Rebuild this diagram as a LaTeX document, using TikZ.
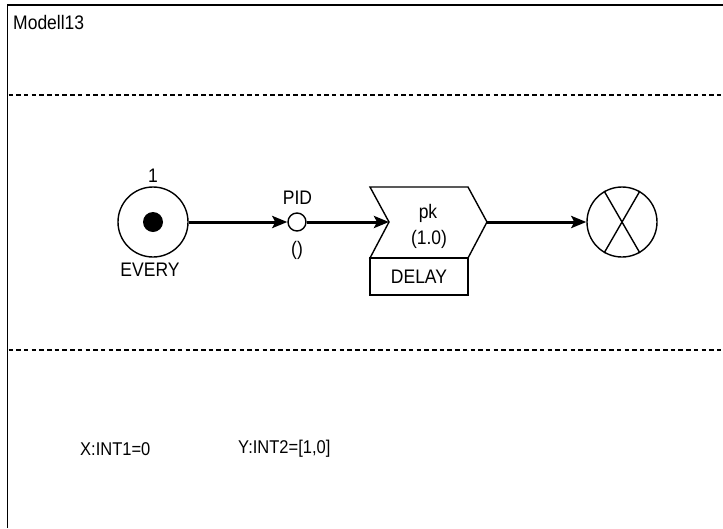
\documentclass[tikz,border=0pt]{standalone}
\usepackage{fontspec}
\setmainfont{Liberation Sans}
\usetikzlibrary{arrows.meta}
\newcommand{\tallt}[1]{\scalebox{1}[1.12]{#1}}
\begin{document}
\begin{tikzpicture}[x=1pt,y=1pt,
  txt/.style={inner sep=0pt, font=\fontsize{17.5}{19}\selectfont},
  small/.style={inner sep=0pt, font=\fontsize{16.5}{18}\selectfont},
  conn/.style={line width=3pt, -{Stealth[length=15pt,width=12pt,inset=3pt]}},
  frame/.style={line width=1.7pt},
  sep/.style={line width=2.8pt, dash pattern=on 4.5pt off 3.2pt},
  ring/.style={circle, draw, line width=1.4pt, inner sep=0pt}]
\useasboundingbox (0,0) rectangle (723,-528);
% frame
\draw[frame] (7.5,-528) -- (7.5,-5) -- (723,-5);
\draw[sep] (8.5,-95) -- (723,-95);
\draw[sep] (8.5,-350) -- (723,-350);
\node[txt, anchor=west] (title) at (13,-22) {\tallt{Modell13}};
% EVERY generator
\node[ring, minimum size=70pt] (every) at (153,-222) {};
\node[circle, fill=black, inner sep=0pt, minimum size=20pt] (dot) at (every.center) {};
\node[txt] (one) at (153,-176) {\tallt{1}};
\node[txt] (everyl) at (150,-270) {\tallt{EVERY}};
% PID place
\node[ring, minimum size=18pt] (pid) at (297,-222) {};
\node[txt] (pidl) at (297.5,-198) {\tallt{PID}};
\node[txt] (pidv) at (297,-250) {\tallt{()}};
% chevron
\coordinate (notch) at (389,-222);
\coordinate (tip) at (487,-222);
\draw[line width=1.4pt, line join=miter] (370,-187) -- (468,-187) -- (tip) -- (468,-258) -- (370,-258) -- (notch) -- cycle;
\node[txt] (pk) at (428,-213) {\tallt{pk}};
\node[txt] (pkv) at (429,-239) {\tallt{(1.0)}};
\node[draw, line width=1.4pt, minimum width=98pt, minimum height=37pt, inner sep=0pt, font=\fontsize{17.5}{19}\selectfont] (delay) at (419,-276.5) {\tallt{DELAY}};
% sink
\node[ring, minimum size=70pt] (sink) at (622,-222) {};
\draw[line width=1.4pt] (sink.60) -- (sink.-120);
\draw[line width=1.4pt] (sink.120) -- (sink.-60);
% connectors
\draw[conn] (every.east) -- (pid.west);
\draw[conn] (pid.east) -- (notch);
\draw[conn] (tip) -- (sink.west);
% variables
\node[small, anchor=west] (xv) at (80,-449) {\tallt{X:INT1=0}};
\node[small, anchor=west] (yv) at (238,-449) {\tallt{Y:INT2=[1,0]}};
\end{tikzpicture}
\end{document}
